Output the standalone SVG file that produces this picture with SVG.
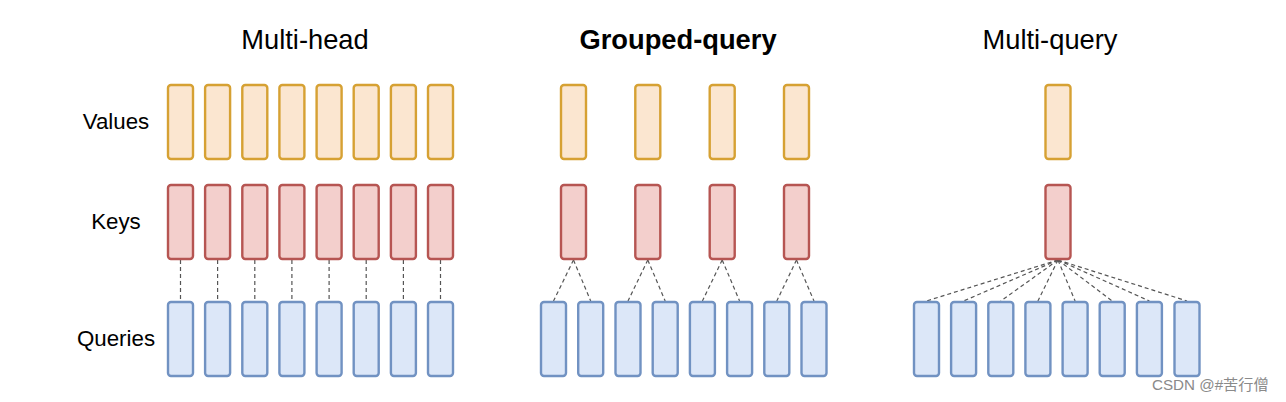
<svg xmlns="http://www.w3.org/2000/svg" width="1286" height="402" viewBox="0 0 1286 402">
<defs>
<style>
.v{fill:#fbe6d0;stroke:#d6a133;stroke-width:2.4}
.k{fill:#f3cfcc;stroke:#b65552;stroke-width:2.4}
.q{fill:#dce7f8;stroke:#7192c2;stroke-width:2.4}
.t{font-family:"Liberation Sans",Arial,sans-serif;fill:#000;text-anchor:middle}
.lbl{font-size:22.3px}
.ttl{font-size:27.3px}
.c line{stroke:#555;stroke-width:1.2;stroke-dasharray:4 3}
</style>
</defs>
<rect width="1286" height="402" fill="#fff"/>
<g id="titles">
<text class="t ttl" x="305" y="49">Multi-head</text>
<text class="t ttl" x="678" y="49" font-weight="bold">Grouped-query</text>
<text class="t ttl" x="1050" y="49">Multi-query</text>
</g>
<g id="row-labels">
<text class="t lbl" x="116" y="129">Values</text>
<text class="t lbl" x="116" y="229">Keys</text>
<text class="t lbl" x="116" y="346">Queries</text>
</g>
<g id="connectors" class="c">
<line x1="180.5" y1="260" x2="180.5" y2="301"/>
<line x1="217.6" y1="260" x2="217.6" y2="301"/>
<line x1="254.8" y1="260" x2="254.8" y2="301"/>
<line x1="291.9" y1="260" x2="291.9" y2="301"/>
<line x1="329.1" y1="260" x2="329.1" y2="301"/>
<line x1="366.2" y1="260" x2="366.2" y2="301"/>
<line x1="403.4" y1="260" x2="403.4" y2="301"/>
<line x1="440.5" y1="260" x2="440.5" y2="301"/>
<line x1="573.5" y1="260" x2="553.5" y2="301"/>
<line x1="573.5" y1="260" x2="590.7" y2="301"/>
<line x1="647.8" y1="260" x2="628" y2="301"/>
<line x1="647.8" y1="260" x2="665.2" y2="301"/>
<line x1="722.2" y1="260" x2="702.4" y2="301"/>
<line x1="722.2" y1="260" x2="739.6" y2="301"/>
<line x1="796.5" y1="260" x2="776.8" y2="301"/>
<line x1="796.5" y1="260" x2="814" y2="301"/>
<line x1="1058" y1="260" x2="926.5" y2="301"/>
<line x1="1058" y1="260" x2="963.6" y2="301"/>
<line x1="1058" y1="260" x2="1000.8" y2="301"/>
<line x1="1058" y1="260" x2="1037.9" y2="301"/>
<line x1="1058" y1="260" x2="1075.1" y2="301"/>
<line x1="1058" y1="260" x2="1112.2" y2="301"/>
<line x1="1058" y1="260" x2="1149.4" y2="301"/>
<line x1="1058" y1="260" x2="1187" y2="301"/>
</g>
<g id="multi-head">
<g id="mh-values">
<rect class="v" x="168" y="85" width="25" height="74" rx="3"/>
<rect class="v" x="205.1" y="85" width="25" height="74" rx="3"/>
<rect class="v" x="242.3" y="85" width="25" height="74" rx="3"/>
<rect class="v" x="279.4" y="85" width="25" height="74" rx="3"/>
<rect class="v" x="316.6" y="85" width="25" height="74" rx="3"/>
<rect class="v" x="353.7" y="85" width="25" height="74" rx="3"/>
<rect class="v" x="390.9" y="85" width="25" height="74" rx="3"/>
<rect class="v" x="428" y="85" width="25" height="74" rx="3"/>
</g>
<g id="mh-keys">
<rect class="k" x="168" y="185" width="25" height="74" rx="3"/>
<rect class="k" x="205.1" y="185" width="25" height="74" rx="3"/>
<rect class="k" x="242.3" y="185" width="25" height="74" rx="3"/>
<rect class="k" x="279.4" y="185" width="25" height="74" rx="3"/>
<rect class="k" x="316.6" y="185" width="25" height="74" rx="3"/>
<rect class="k" x="353.7" y="185" width="25" height="74" rx="3"/>
<rect class="k" x="390.9" y="185" width="25" height="74" rx="3"/>
<rect class="k" x="428" y="185" width="25" height="74" rx="3"/>
</g>
<g id="mh-queries">
<rect class="q" x="168" y="302" width="25" height="74" rx="3"/>
<rect class="q" x="205.1" y="302" width="25" height="74" rx="3"/>
<rect class="q" x="242.3" y="302" width="25" height="74" rx="3"/>
<rect class="q" x="279.4" y="302" width="25" height="74" rx="3"/>
<rect class="q" x="316.6" y="302" width="25" height="74" rx="3"/>
<rect class="q" x="353.7" y="302" width="25" height="74" rx="3"/>
<rect class="q" x="390.9" y="302" width="25" height="74" rx="3"/>
<rect class="q" x="428" y="302" width="25" height="74" rx="3"/>
</g>
</g>
<g id="grouped-query">
<g id="gq-values">
<rect class="v" x="561" y="85" width="25" height="74" rx="3"/>
<rect class="v" x="635.3" y="85" width="25" height="74" rx="3"/>
<rect class="v" x="709.7" y="85" width="25" height="74" rx="3"/>
<rect class="v" x="784" y="85" width="25" height="74" rx="3"/>
</g>
<g id="gq-keys">
<rect class="k" x="561" y="185" width="25" height="74" rx="3"/>
<rect class="k" x="635.3" y="185" width="25" height="74" rx="3"/>
<rect class="k" x="709.7" y="185" width="25" height="74" rx="3"/>
<rect class="k" x="784" y="185" width="25" height="74" rx="3"/>
</g>
<g id="gq-queries">
<rect class="q" x="541" y="302" width="25" height="74" rx="3"/>
<rect class="q" x="578.2" y="302" width="25" height="74" rx="3"/>
<rect class="q" x="615.5" y="302" width="25" height="74" rx="3"/>
<rect class="q" x="652.7" y="302" width="25" height="74" rx="3"/>
<rect class="q" x="689.9" y="302" width="25" height="74" rx="3"/>
<rect class="q" x="727.1" y="302" width="25" height="74" rx="3"/>
<rect class="q" x="764.3" y="302" width="25" height="74" rx="3"/>
<rect class="q" x="801.5" y="302" width="25" height="74" rx="3"/>
</g>
</g>
<g id="multi-query">
<g id="mq-value"><rect class="v" x="1045.5" y="85" width="25" height="74" rx="3"/></g>
<g id="mq-key"><rect class="k" x="1045.5" y="185" width="25" height="74" rx="3"/></g>
<g id="mq-queries">
<rect class="q" x="914" y="302" width="25" height="74" rx="3"/>
<rect class="q" x="951.1" y="302" width="25" height="74" rx="3"/>
<rect class="q" x="988.3" y="302" width="25" height="74" rx="3"/>
<rect class="q" x="1025.4" y="302" width="25" height="74" rx="3"/>
<rect class="q" x="1062.6" y="302" width="25" height="74" rx="3"/>
<rect class="q" x="1099.7" y="302" width="25" height="74" rx="3"/>
<rect class="q" x="1136.9" y="302" width="25" height="74" rx="3"/>
<rect class="q" x="1174.5" y="302" width="25" height="74" rx="3"/>
</g>
</g>
<text x="1152" y="390" font-family="Liberation Sans,'Noto Sans CJK SC',sans-serif" font-size="15.2" fill="#8a8a8a">CSDN @#苦行僧</text>
</svg>
